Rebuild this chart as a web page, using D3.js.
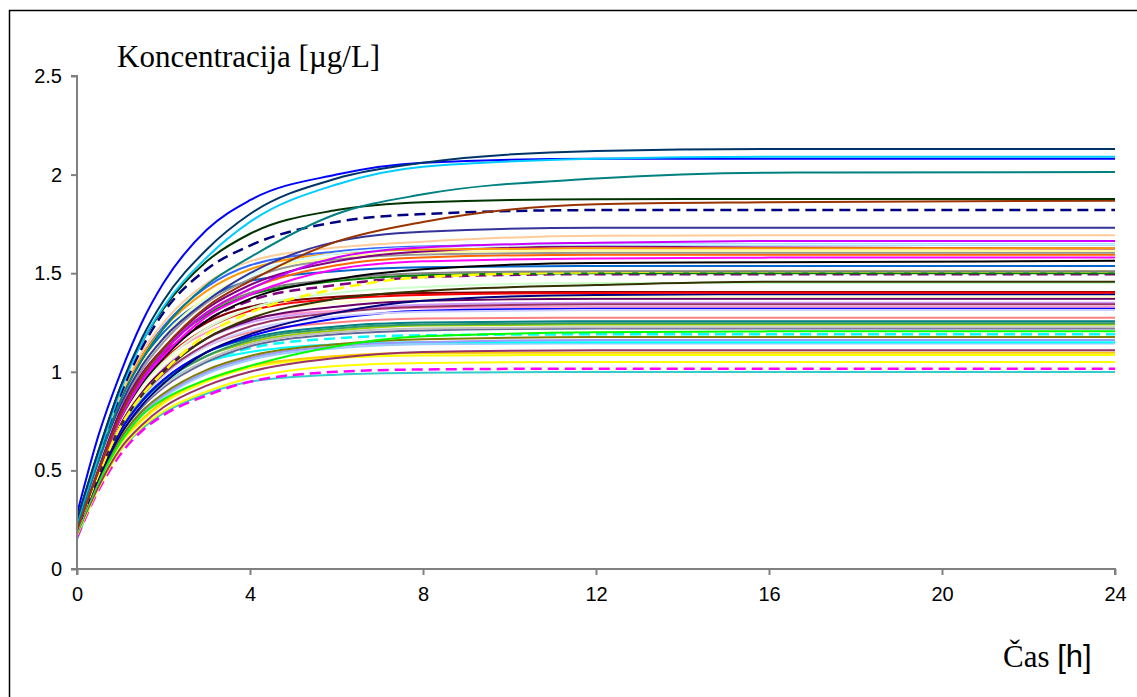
<!DOCTYPE html>
<html>
<head>
<meta charset="utf-8">
<script src="https://cdn.jsdelivr.net/npm/d3@7"></script>
<style>
    body { margin: 0; background: #fff; }
    svg { display: block; }
</style>
</head>
<body>
<div id="chart"></div>
<script>
// sampling times [h]
const hours = [0, 0.5, 1, 1.5, 2, 3, 4, 6, 8, 12, 16, 24];

const xTicks = [0, 4, 8, 12, 16, 20, 24];
const yTicks = [0, 0.5, 1, 1.5, 2, 2.5];

// one concentration profile per subject [µg/L]
const seriesColors = [
    '#003366', '#00CCFF', '#0000FF', '#008080', '#003300', '#993300', '#000080', '#333399',
    '#FFCC99', '#CC00FF', '#CCFFFF', '#FF9900', '#800080', '#FFFF99', '#969696', '#FF6600',
    '#FF00FF', '#000000', '#0066CC', '#3366FF', '#808080', '#FFFF00', '#008000', '#800080',
    '#333300', '#CCFFCC', '#FF0000', '#800000', '#000080', '#FFFFCC', '#660066', '#993366',
    '#CCCCFF', '#0000FF', '#FF8080', '#008080', '#339966', '#C0C0C0', '#666699', '#00FF00',
    '#00FFFF', '#808000', '#9999FF', '#00FFFF', '#99CCFF', '#993366', '#FFCC00', '#FFFF00',
    '#FFFF00', '#FF00FF', '#33CCCC', '#FF99CC', '#99CC00', '#CC99FF'
];

const dashedSeries = [6, 21, 23, 40, 49];

const seriesValues = [
    [0.25, 0.60, 0.92, 1.17, 1.36, 1.62, 1.80, 1.98, 2.06, 2.12, 2.13, 2.13],
    [0.24, 0.58, 0.90, 1.15, 1.33, 1.58, 1.76, 1.95, 2.04, 2.08, 2.09, 2.09],
    [0.28, 0.68, 0.99, 1.25, 1.45, 1.72, 1.87, 2.00, 2.06, 2.08, 2.08, 2.08],
    [0.22, 0.55, 0.85, 1.06, 1.22, 1.44, 1.58, 1.80, 1.90, 1.98, 2.01, 2.013],
    [0.25, 0.60, 0.92, 1.15, 1.32, 1.56, 1.70, 1.82, 1.86, 1.875, 1.876, 1.876],
    [0.20, 0.50, 0.78, 0.98, 1.12, 1.33, 1.46, 1.66, 1.76, 1.85, 1.86, 1.868],
    [0.22, 0.57, 0.88, 1.12, 1.30, 1.52, 1.64, 1.76, 1.80, 1.82, 1.82, 1.82],
    [0.22, 0.55, 0.83, 1.03, 1.17, 1.36, 1.50, 1.66, 1.71, 1.73, 1.73, 1.73],
    [0.24, 0.58, 0.88, 1.10, 1.25, 1.45, 1.56, 1.63, 1.66, 1.69, 1.692, 1.692],
    [0.20, 0.50, 0.77, 0.96, 1.10, 1.30, 1.42, 1.58, 1.63, 1.655, 1.663, 1.663],
    [0.22, 0.54, 0.83, 1.03, 1.17, 1.37, 1.49, 1.60, 1.63, 1.645, 1.646, 1.646],
    [0.23, 0.57, 0.87, 1.08, 1.22, 1.41, 1.52, 1.60, 1.62, 1.626, 1.626, 1.626],
    [0.21, 0.52, 0.80, 0.99, 1.12, 1.32, 1.44, 1.56, 1.61, 1.635, 1.63, 1.625],
    [0.22, 0.55, 0.84, 1.04, 1.18, 1.38, 1.49, 1.58, 1.605, 1.614, 1.614, 1.614],
    [0.21, 0.53, 0.81, 1.01, 1.15, 1.35, 1.47, 1.57, 1.595, 1.604, 1.604, 1.604],
    [0.20, 0.50, 0.77, 0.96, 1.10, 1.30, 1.42, 1.54, 1.58, 1.594, 1.594, 1.594],
    [0.20, 0.50, 0.76, 0.95, 1.08, 1.28, 1.39, 1.52, 1.56, 1.575, 1.579, 1.579],
    [0.20, 0.50, 0.76, 0.94, 1.07, 1.26, 1.37, 1.47, 1.52, 1.552, 1.555, 1.563],
    [0.23, 0.57, 0.86, 1.06, 1.20, 1.37, 1.46, 1.51, 1.53, 1.537, 1.537, 1.537],
    [0.23, 0.57, 0.87, 1.08, 1.23, 1.43, 1.54, 1.61, 1.635, 1.645, 1.645, 1.645],
    [0.21, 0.52, 0.80, 0.99, 1.12, 1.30, 1.40, 1.47, 1.50, 1.51, 1.51, 1.51],
    [0.20, 0.48, 0.72, 0.88, 1.00, 1.19, 1.30, 1.42, 1.48, 1.505, 1.51, 1.51],
    [0.21, 0.52, 0.79, 0.98, 1.11, 1.29, 1.39, 1.46, 1.49, 1.50, 1.50, 1.50],
    [0.20, 0.50, 0.77, 0.95, 1.08, 1.26, 1.36, 1.44, 1.48, 1.495, 1.495, 1.495],
    [0.20, 0.48, 0.72, 0.88, 1.00, 1.17, 1.27, 1.37, 1.41, 1.44, 1.457, 1.457],
    [0.21, 0.50, 0.76, 0.93, 1.05, 1.22, 1.32, 1.40, 1.43, 1.45, 1.45, 1.45],
    [0.21, 0.51, 0.77, 0.94, 1.06, 1.22, 1.31, 1.37, 1.39, 1.40, 1.401, 1.401],
    [0.22, 0.53, 0.80, 0.97, 1.09, 1.25, 1.33, 1.38, 1.40, 1.405, 1.405, 1.405],
    [0.20, 0.46, 0.68, 0.83, 0.94, 1.10, 1.19, 1.30, 1.36, 1.39, 1.393, 1.393],
    [0.21, 0.50, 0.75, 0.91, 1.03, 1.19, 1.28, 1.35, 1.37, 1.381, 1.381, 1.381],
    [0.20, 0.49, 0.74, 0.90, 1.01, 1.17, 1.26, 1.33, 1.36, 1.371, 1.371, 1.371],
    [0.20, 0.48, 0.72, 0.88, 0.99, 1.14, 1.23, 1.30, 1.33, 1.342, 1.342, 1.342],
    [0.20, 0.48, 0.72, 0.87, 0.98, 1.13, 1.21, 1.28, 1.305, 1.313, 1.313, 1.313],
    [0.20, 0.47, 0.70, 0.85, 0.96, 1.10, 1.18, 1.27, 1.31, 1.32, 1.32, 1.32],
    [0.21, 0.50, 0.74, 0.89, 0.99, 1.13, 1.20, 1.25, 1.27, 1.274, 1.274, 1.274],
    [0.20, 0.48, 0.71, 0.86, 0.96, 1.10, 1.17, 1.23, 1.25, 1.256, 1.256, 1.256],
    [0.20, 0.47, 0.70, 0.85, 0.95, 1.08, 1.16, 1.22, 1.24, 1.246, 1.246, 1.246],
    [0.19, 0.46, 0.69, 0.83, 0.93, 1.06, 1.14, 1.20, 1.22, 1.226, 1.226, 1.226],
    [0.19, 0.46, 0.68, 0.82, 0.92, 1.05, 1.13, 1.19, 1.21, 1.22, 1.22, 1.22],
    [0.18, 0.44, 0.64, 0.78, 0.86, 0.96, 1.03, 1.13, 1.18, 1.20, 1.205, 1.205],
    [0.20, 0.47, 0.69, 0.83, 0.93, 1.05, 1.12, 1.17, 1.185, 1.19, 1.19, 1.19],
    [0.19, 0.45, 0.66, 0.80, 0.89, 1.01, 1.08, 1.14, 1.165, 1.176, 1.176, 1.176],
    [0.19, 0.45, 0.66, 0.79, 0.88, 1.00, 1.07, 1.13, 1.15, 1.161, 1.161, 1.161],
    [0.21, 0.49, 0.71, 0.85, 0.94, 1.05, 1.10, 1.14, 1.15, 1.15, 1.15, 1.15],
    [0.19, 0.45, 0.65, 0.78, 0.87, 0.99, 1.06, 1.12, 1.14, 1.144, 1.144, 1.144],
    [0.18, 0.42, 0.61, 0.73, 0.82, 0.93, 1.00, 1.07, 1.10, 1.109, 1.109, 1.109],
    [0.18, 0.44, 0.64, 0.76, 0.85, 0.96, 1.03, 1.08, 1.095, 1.097, 1.097, 1.097],
    [0.18, 0.43, 0.63, 0.75, 0.84, 0.95, 1.02, 1.07, 1.083, 1.085, 1.085, 1.085],
    [0.17, 0.41, 0.60, 0.72, 0.80, 0.90, 0.97, 1.03, 1.045, 1.05, 1.05, 1.05],
    [0.16, 0.40, 0.58, 0.70, 0.78, 0.88, 0.95, 1.00, 1.012, 1.016, 1.016, 1.016],
    [0.15, 0.42, 0.60, 0.71, 0.79, 0.89, 0.95, 0.985, 0.995, 0.999, 0.999, 0.999],
    [0.22, 0.52, 0.78, 0.95, 1.06, 1.20, 1.27, 1.31, 1.325, 1.33, 1.33, 1.33],
    [0.20, 0.48, 0.70, 0.85, 0.95, 1.08, 1.15, 1.21, 1.235, 1.24, 1.24, 1.24],
    [0.21, 0.50, 0.75, 0.91, 1.02, 1.17, 1.25, 1.31, 1.34, 1.35, 1.35, 1.35]
];

const W = 1137, H = 697;
const margin = { top: 76, right: 22, bottom: 128, left: 77 };
const width = W - margin.left - margin.right;
const height = H - margin.top - margin.bottom;

const svg = d3.select('#chart')
    .append('svg')
    .attr('width', W)
    .attr('height', H);

// outer frame of the chart area
svg.append('rect')
    .attr('x', 9.5)
    .attr('y', 10.5)
    .attr('width', 1140)
    .attr('height', 700)
    .attr('fill', 'none')
    .attr('stroke', '#000')
    .attr('stroke-width', 1.5);

const g = svg.append('g')
    .attr('transform', `translate(${margin.left},${margin.top})`);

const x = d3.scaleLinear().domain([0, 24]).range([0, width]);
const y = d3.scaleLinear().domain([0, 2.5]).range([height, 0]);

const line = d3.line()
    .x((d, i) => x(hours[i]))
    .y(d => y(d))
    .curve(d3.curveMonotoneX);

// draw later series first so the top curves end up in front
const order = d3.range(seriesValues.length).reverse();
order.forEach(i => {
    const dashed = dashedSeries.includes(i);
    g.append('path')
        .datum(seriesValues[i])
        .attr('fill', 'none')
        .attr('stroke', seriesColors[i])
        .attr('stroke-width', dashed ? 2.5 : 2)
        .attr('stroke-dasharray', dashed ? '11,6' : null)
        .attr('stroke-linejoin', 'round')
        .attr('d', line);
});

const axisColor = '#808080';

const xAxis = g.append('g')
    .attr('transform', `translate(0,${height})`)
    .call(d3.axisBottom(x).tickValues(xTicks).tickSize(6).tickPadding(12).tickFormat(d3.format('d')));

const yAxis = g.append('g')
    .call(d3.axisLeft(y).tickValues(yTicks).tickSize(6).tickPadding(9).tickFormat(d => String(d)));

[xAxis, yAxis].forEach(ax => {
    ax.select('.domain').attr('stroke', axisColor).attr('stroke-width', 2);
    ax.selectAll('.tick line').attr('stroke', axisColor).attr('stroke-width', 2);
    ax.selectAll('.tick text')
        .attr('fill', '#000')
        .style('font-family', 'Arial, "Liberation Sans", sans-serif')
        .style('font-size', '20px');
});

yAxis.select('.domain').attr('d', `M-6,${height}H0V0H-6`);
xAxis.select('.domain').attr('d', `M0,6V0H${width}V6`);

svg.append('text')
    .attr('x', 117)
    .attr('y', 67)
    .style('font-family', '"Times New Roman", "Liberation Serif", serif')
    .style('font-size', '31px')
    .attr('fill', '#000')
    .text('Koncentracija [µg/L]');

const xTitle = svg.append('text')
    .attr('x', 1003)
    .attr('y', 667)
    .attr('fill', '#000')
    .style('font-size', '31px');

xTitle.append('tspan')
    .style('font-family', '"Times New Roman", "Liberation Serif", serif')
    .text('Čas ');

xTitle.append('tspan')
    .style('font-family', 'Arial, "Liberation Sans", sans-serif')
    .text('[h]');
</script>
</body>
</html>
